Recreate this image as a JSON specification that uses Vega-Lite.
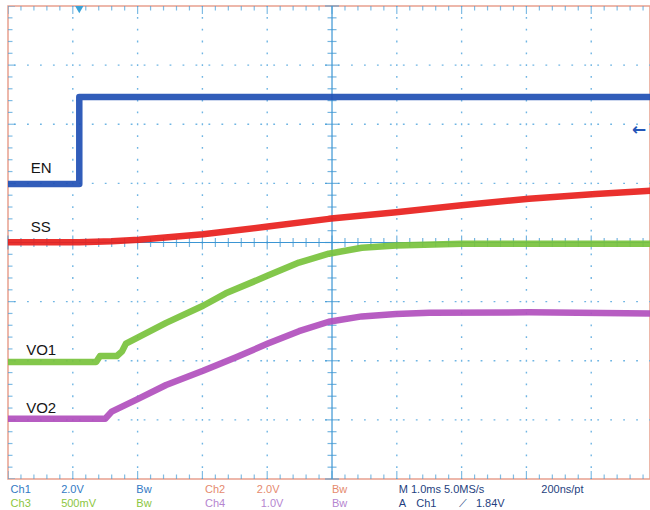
{
 "$schema": "https://vega.github.io/schema/vega-lite/v6.json",
 "width": 642, "height": 473,
 "autosize": {"type": "none"},
 "padding": {"left": 8, "top": 6, "right": 0, "bottom": 31},
 "background": "white",
 "config": {"view": {"stroke": "#e8a08e", "strokeWidth": 1.5}, "axis": {"disable": true}, "legend": {"disable": true}},
 "datasets": {
  "gx": [{"t": -4}, {"t": -3}, {"t": -2}, {"t": -1}, {"t": 1}, {"t": 2}, {"t": 3}, {"t": 4}],
  "gy": [{"v": -3}, {"v": -2}, {"v": -1}, {"v": 1}, {"v": 2}, {"v": 3}],
  "c0": [{"t": 0, "v": 0}],
  "xt": [{"t":-5},{"t":-4.8},{"t":-4.6},{"t":-4.4},{"t":-4.2},{"t":-4},{"t":-3.8},{"t":-3.6},{"t":-3.4},{"t":-3.2},{"t":-3},{"t":-2.8},{"t":-2.6},{"t":-2.4},{"t":-2.2},{"t":-2},{"t":-1.8},{"t":-1.6},{"t":-1.4},{"t":-1.2},{"t":-1},{"t":-0.8},{"t":-0.6},{"t":-0.4},{"t":-0.2},{"t":0},{"t":0.2},{"t":0.4},{"t":0.6},{"t":0.8},{"t":1},{"t":1.2},{"t":1.4},{"t":1.6},{"t":1.8},{"t":2},{"t":2.2},{"t":2.4},{"t":2.6},{"t":2.8},{"t":3},{"t":3.2},{"t":3.4},{"t":3.6},{"t":3.8},{"t":4},{"t":4.2},{"t":4.4},{"t":4.6},{"t":4.8}],
  "yt": [{"v":-4},{"v":-3.8},{"v":-3.6},{"v":-3.4},{"v":-3.2},{"v":-3},{"v":-2.8},{"v":-2.6},{"v":-2.4},{"v":-2.2},{"v":-2},{"v":-1.8},{"v":-1.6},{"v":-1.4},{"v":-1.2},{"v":-1},{"v":-0.8},{"v":-0.6},{"v":-0.4},{"v":-0.2},{"v":0},{"v":0.2},{"v":0.4},{"v":0.6},{"v":0.8},{"v":1},{"v":1.2},{"v":1.4},{"v":1.6},{"v":1.8},{"v":2},{"v":2.2},{"v":2.4},{"v":2.6},{"v":2.8},{"v":3},{"v":3.2},{"v":3.4},{"v":3.6},{"v":3.8},{"v":4}],
  "traces": [
   {"ch": "EN", "i": 0, "t": -5.0, "v": 0.99},
   {"ch": "EN", "i": 1, "t": -3.9, "v": 0.99},
   {"ch": "EN", "i": 2, "t": -3.9, "v": 2.46},
   {"ch": "EN", "i": 3, "t": 5.0, "v": 2.46},
   {"ch": "SS", "i": 0, "t": -5.0, "v": 0.005},
   {"ch": "SS", "i": 1, "t": -3.9, "v": 0.005},
   {"ch": "SS", "i": 2, "t": -3.4, "v": 0.02},
   {"ch": "SS", "i": 3, "t": -2.98, "v": 0.045},
   {"ch": "SS", "i": 4, "t": -1.99, "v": 0.14},
   {"ch": "SS", "i": 5, "t": -0.99, "v": 0.27},
   {"ch": "SS", "i": 6, "t": -0.05, "v": 0.40},
   {"ch": "SS", "i": 7, "t": 0.99, "v": 0.51},
   {"ch": "SS", "i": 8, "t": 2.0, "v": 0.63},
   {"ch": "SS", "i": 9, "t": 3.04, "v": 0.74},
   {"ch": "SS", "i": 10, "t": 4.07, "v": 0.82},
   {"ch": "SS", "i": 11, "t": 4.85, "v": 0.87},
   {"ch": "SS", "i": 12, "t": 5.0, "v": 0.88},
   {"ch": "VO1", "i": 0, "t": -5.0, "v": -2.02},
   {"ch": "VO1", "i": 1, "t": -3.64, "v": -2.02},
   {"ch": "VO1", "i": 2, "t": -3.58, "v": -1.92},
   {"ch": "VO1", "i": 3, "t": -3.32, "v": -1.92},
   {"ch": "VO1", "i": 4, "t": -3.24, "v": -1.84},
   {"ch": "VO1", "i": 5, "t": -3.18, "v": -1.71},
   {"ch": "VO1", "i": 6, "t": -2.56, "v": -1.36},
   {"ch": "VO1", "i": 7, "t": -1.99, "v": -1.07},
   {"ch": "VO1", "i": 8, "t": -1.64, "v": -0.86},
   {"ch": "VO1", "i": 9, "t": -0.99, "v": -0.56},
   {"ch": "VO1", "i": 10, "t": -0.51, "v": -0.34},
   {"ch": "VO1", "i": 11, "t": -0.05, "v": -0.19},
   {"ch": "VO1", "i": 12, "t": 0.46, "v": -0.09},
   {"ch": "VO1", "i": 13, "t": 0.99, "v": -0.05},
   {"ch": "VO1", "i": 14, "t": 2.0, "v": -0.02},
   {"ch": "VO1", "i": 15, "t": 5.0, "v": -0.02},
   {"ch": "VO2", "i": 0, "t": -5.0, "v": -2.98},
   {"ch": "VO2", "i": 1, "t": -3.5, "v": -2.98},
   {"ch": "VO2", "i": 2, "t": -3.4, "v": -2.86},
   {"ch": "VO2", "i": 3, "t": -3.0, "v": -2.65},
   {"ch": "VO2", "i": 4, "t": -2.56, "v": -2.41},
   {"ch": "VO2", "i": 5, "t": -1.99, "v": -2.17},
   {"ch": "VO2", "i": 6, "t": -1.48, "v": -1.94},
   {"ch": "VO2", "i": 7, "t": -0.99, "v": -1.71},
   {"ch": "VO2", "i": 8, "t": -0.51, "v": -1.5},
   {"ch": "VO2", "i": 9, "t": -0.05, "v": -1.34},
   {"ch": "VO2", "i": 10, "t": 0.46, "v": -1.25},
   {"ch": "VO2", "i": 11, "t": 0.99, "v": -1.21},
   {"ch": "VO2", "i": 12, "t": 1.5, "v": -1.19},
   {"ch": "VO2", "i": 13, "t": 3.04, "v": -1.18},
   {"ch": "VO2", "i": 14, "t": 5.0, "v": -1.2}
  ],
  "labels": [
   {"s": "EN", "t": -4.65, "v": 1.18},
   {"s": "SS", "t": -4.65, "v": 0.17},
   {"s": "VO1", "t": -4.72, "v": -1.91},
   {"s": "VO2", "t": -4.72, "v": -2.89}
  ],
  "status": [
   {"s": "Ch1", "t": -4.96, "v": -4.24, "ch": "c1"},
   {"s": "2.0V", "t": -4.18, "v": -4.24, "ch": "c1"},
   {"s": "Bw", "t": -3.02, "v": -4.24, "ch": "c1"},
   {"s": "Ch2", "t": -1.96, "v": -4.24, "ch": "c2"},
   {"s": "2.0V", "t": -1.16, "v": -4.24, "ch": "c2"},
   {"s": "Bw", "t": 0.0, "v": -4.24, "ch": "c2"},
   {"s": "M 1.0ms 5.0MS/s", "t": 1.03, "v": -4.24, "ch": "m"},
   {"s": "200ns/pt", "t": 3.23, "v": -4.24, "ch": "m"},
   {"s": "Ch3", "t": -4.96, "v": -4.47, "ch": "c3"},
   {"s": "500mV", "t": -4.18, "v": -4.47, "ch": "c3"},
   {"s": "Bw", "t": -3.02, "v": -4.47, "ch": "c3"},
   {"s": "Ch4", "t": -1.96, "v": -4.47, "ch": "c4"},
   {"s": "1.0V", "t": -1.1, "v": -4.47, "ch": "c4"},
   {"s": "Bw", "t": 0.0, "v": -4.47, "ch": "c4"},
   {"s": "A", "t": 1.03, "v": -4.47, "ch": "m"},
   {"s": "Ch1", "t": 1.3, "v": -4.47, "ch": "m"},
   {"s": "⟋", "t": 1.96, "v": -4.47, "ch": "m"},
   {"s": "1.84V", "t": 2.22, "v": -4.47, "ch": "m"}
  ]
 },
 "layer": [
  {"data": {"name": "gx"}, "mark": {"type": "rule", "color": "#6fb5e3", "strokeWidth": 1.4, "strokeDash": [1.8, 10.025], "strokeDashOffset": 0.9},
   "encoding": {"x": {"field": "t", "type": "quantitative", "scale": {"domain": [-5, 4.907], "nice": false, "zero": false}}}},
  {"data": {"name": "gy"}, "mark": {"type": "rule", "color": "#6fb5e3", "strokeWidth": 1.4, "strokeDash": [1.8, 11.16], "strokeDashOffset": 0.9},
   "encoding": {"y": {"field": "v", "type": "quantitative", "scale": {"domain": [-4, 4], "nice": false, "zero": false}}}},
  {"data": {"name": "c0"}, "mark": {"type": "rule", "color": "#3b95d3", "strokeWidth": 1.2},
   "encoding": {"x": {"field": "t", "type": "quantitative", "scale": {"domain": [-5, 4.907], "nice": false, "zero": false}}}},
  {"data": {"name": "c0"}, "mark": {"type": "rule", "color": "#3b95d3", "strokeWidth": 1.2},
   "encoding": {"y": {"field": "v", "type": "quantitative", "scale": {"domain": [-4, 4], "nice": false, "zero": false}}}},
  {"data": {"name": "xt"}, "mark": {"type": "tick", "orient": "vertical", "color": "#3b95d3", "thickness": 1.2},
   "encoding": {
    "x": {"field": "t", "type": "quantitative", "scale": {"domain": [-5, 4.907], "nice": false, "zero": false}},
    "y": {"datum": 0, "type": "quantitative", "scale": {"domain": [-4, 4], "nice": false, "zero": false}},
    "size": {"condition": {"test": "abs(datum.t - round(datum.t)) < 0.01", "value": 14}, "value": 9}}},
  {"data": {"name": "yt"}, "mark": {"type": "tick", "orient": "horizontal", "color": "#3b95d3", "thickness": 1.2},
   "encoding": {
    "y": {"field": "v", "type": "quantitative", "scale": {"domain": [-4, 4], "nice": false, "zero": false}},
    "x": {"datum": 0, "type": "quantitative", "scale": {"domain": [-5, 4.907], "nice": false, "zero": false}},
    "size": {"condition": {"test": "abs(datum.v - round(datum.v)) < 0.01", "value": 14}, "value": 9}}},
  {"data": {"name": "xt"}, "mark": {"type": "tick", "orient": "vertical", "color": "#4aa0d8", "thickness": 1.2, "clip": true},
   "encoding": {
    "x": {"field": "t", "type": "quantitative", "scale": {"domain": [-5, 4.907], "nice": false, "zero": false}},
    "y": {"datum": -4, "type": "quantitative", "scale": {"domain": [-4, 4], "nice": false, "zero": false}},
    "size": {"condition": {"test": "abs(datum.t - round(datum.t)) < 0.01", "value": 16}, "value": 9}}},
  {"data": {"name": "xt"}, "mark": {"type": "tick", "orient": "vertical", "color": "#4aa0d8", "thickness": 1.2, "clip": true},
   "encoding": {
    "x": {"field": "t", "type": "quantitative", "scale": {"domain": [-5, 4.907], "nice": false, "zero": false}},
    "y": {"datum": 4, "type": "quantitative", "scale": {"domain": [-4, 4], "nice": false, "zero": false}},
    "size": {"condition": {"test": "abs(datum.t - round(datum.t)) < 0.01", "value": 16}, "value": 9}}},
  {"data": {"name": "yt"}, "mark": {"type": "tick", "orient": "horizontal", "color": "#4aa0d8", "thickness": 1.2, "clip": true},
   "encoding": {
    "y": {"field": "v", "type": "quantitative", "scale": {"domain": [-4, 4], "nice": false, "zero": false}},
    "x": {"datum": -5, "type": "quantitative", "scale": {"domain": [-5, 4.907], "nice": false, "zero": false}},
    "size": {"condition": {"test": "abs(datum.v - round(datum.v)) < 0.01", "value": 14}, "value": 9}}},
  {"data": {"name": "traces"}, "mark": {"type": "line", "strokeWidth": 6.5, "clip": true, "strokeJoin": "round", "opacity": 0.92},
   "encoding": {
    "x": {"field": "t", "type": "quantitative", "scale": {"domain": [-5, 4.907], "nice": false, "zero": false}},
    "y": {"field": "v", "type": "quantitative", "scale": {"domain": [-4, 4], "nice": false, "zero": false}},
    "order": {"field": "i", "type": "quantitative"},
    "color": {"field": "ch", "type": "nominal", "scale": {"domain": ["EN", "SS", "VO1", "VO2", "c1", "c2", "c3", "c4", "m"], "range": ["#1f4fb4", "#e8201c", "#78c23c", "#b14fbd", "#3279c4", "#e58a6e", "#8cc641", "#b585d0", "#1f3f80"]}}}},
  {"data": {"name": "labels"}, "mark": {"type": "text", "align": "left", "baseline": "alphabetic", "font": "Liberation Sans", "fontSize": 15, "color": "#151515"},
   "encoding": {
    "x": {"field": "t", "type": "quantitative", "scale": {"domain": [-5, 4.907], "nice": false, "zero": false}},
    "y": {"field": "v", "type": "quantitative", "scale": {"domain": [-4, 4], "nice": false, "zero": false}},
    "text": {"field": "s", "type": "nominal"}}},
  {"data": {"name": "status"}, "mark": {"type": "text", "align": "left", "baseline": "alphabetic", "font": "Liberation Sans", "fontSize": 11},
   "encoding": {
    "x": {"field": "t", "type": "quantitative", "scale": {"domain": [-5, 4.907], "nice": false, "zero": false}},
    "y": {"field": "v", "type": "quantitative", "scale": {"domain": [-4, 4], "nice": false, "zero": false}},
    "text": {"field": "s", "type": "nominal"},
    "color": {"field": "ch", "type": "nominal", "scale": {"domain": ["EN", "SS", "VO1", "VO2", "c1", "c2", "c3", "c4", "m"], "range": ["#1f4fb4", "#e8201c", "#78c23c", "#b14fbd", "#3279c4", "#e58a6e", "#8cc641", "#b585d0", "#1f3f80"]}}}},
  {"data": {"name": "c0"}, "mark": {"type": "point", "shape": "triangle-down", "filled": true, "color": "#3aa3d8", "size": 70, "opacity": 1},
   "encoding": {
    "x": {"datum": -3.9, "type": "quantitative", "scale": {"domain": [-5, 4.907], "nice": false, "zero": false}},
    "y": {"datum": 3.94, "type": "quantitative", "scale": {"domain": [-4, 4], "nice": false, "zero": false}}}},
  {"data": {"name": "c0"}, "mark": {"type": "text", "text": "←", "font": "DejaVu Sans", "fontSize": 17, "fontWeight": "bold", "color": "#2456b8", "align": "center", "baseline": "middle"},
   "encoding": {
    "x": {"datum": 4.74, "type": "quantitative", "scale": {"domain": [-5, 4.907], "nice": false, "zero": false}},
    "y": {"datum": 1.9, "type": "quantitative", "scale": {"domain": [-4, 4], "nice": false, "zero": false}}}}
 ]
}
